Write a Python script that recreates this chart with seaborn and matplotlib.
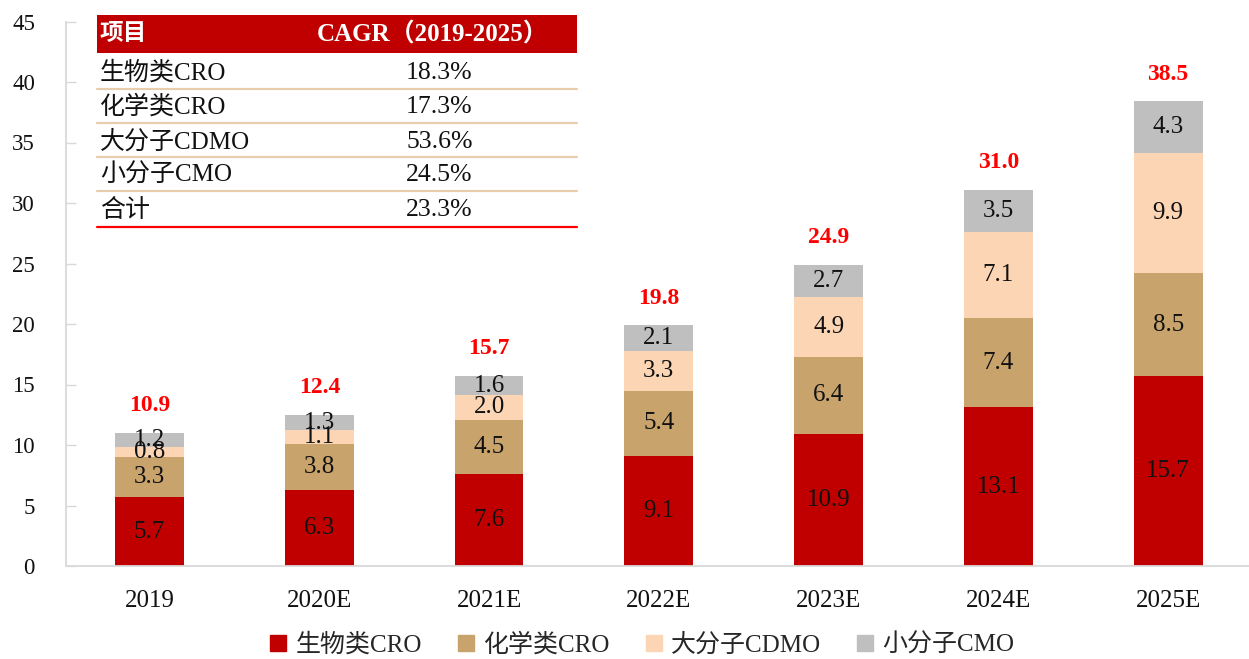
import numpy as np
import pandas as pd
import matplotlib
matplotlib.use("Agg")
import matplotlib.pyplot as plt
import seaborn as sns
from matplotlib.patches import Rectangle
from matplotlib.lines import Line2D

years = ["2019", "2020E", "2021E", "2022E", "2023E", "2024E", "2025E"]
series_names = ["生物类CRO", "化学类CRO", "大分子CDMO", "小分子CMO"]
bio_cro = [5.7, 6.3, 7.6, 9.1, 10.9, 13.1, 15.7]
chem_cro = [3.3, 3.8, 4.5, 5.4, 6.4, 7.4, 8.5]
large_cdmo = [0.8, 1.1, 2.0, 3.3, 4.9, 7.1, 9.9]
small_cmo = [1.2, 1.3, 1.6, 2.1, 2.7, 3.5, 4.3]
totals = [10.9, 12.4, 15.7, 19.8, 24.9, 31.0, 38.5]

table_items = ["生物类CRO", "化学类CRO", "大分子CDMO", "小分子CMO", "合计"]
table_cagr = ["18.3%", "17.3%", "53.6%", "24.5%", "23.3%"]

colors = ["#C00000", "#C9A36C", "#FCD5B4", "#BFBFBF"]
FAM = ["Liberation Serif", "Noto Sans CJK SC"]

sns.set_theme(style="white")
plt.rcParams["font.family"] = FAM
plt.rcParams["axes.unicode_minus"] = False

W, H = 1249, 659
fig = plt.figure(figsize=(W / 100, H / 100), dpi=100)
ax = fig.add_axes([65.5 / W, (H - 566) / H, (W - 65.5) / W, 544.5 / H])

all_series = [bio_cro, chem_cro, large_cdmo, small_cmo]
bottom = np.zeros(len(years))
for name, vals, c in zip(series_names, all_series, colors):
    sns.barplot(x=years, y=vals, bottom=bottom, color=c, width=0.405,
                saturation=1, ax=ax, label=name, edgecolor="none", linewidth=0)
    bottom = bottom + np.array(vals)
if ax.get_legend() is not None:
    ax.get_legend().remove()

for cont in ax.containers:
    ax.bar_label(cont, fmt="%.1f", label_type="center", fontsize=18,
                 color="#111111", family=FAM)

for i, t in enumerate(totals):
    ax.annotate(f"{t:.1f}", xy=(i, bottom[i]), xytext=(0, 19.5),
                textcoords="offset points", ha="center", va="center",
                fontsize=17, fontweight="bold", color="#FF0000", family=FAM)

ax.set_ylim(0, 45)
ax.set_xlim(-0.495, 6.476)
ax.set_yticks(range(0, 46, 5))
ax.tick_params(axis="y", labelsize=16.5, length=7, width=1, color="#D9D9D9",
               direction="in", left=True, pad=22, labelcolor="#111111")
ax.tick_params(axis="x", labelsize=18, length=0, pad=17, labelcolor="#111111")
ax.set_xlabel("")
ax.set_ylabel("")
for s in ["top", "right"]:
    ax.spines[s].set_visible(False)
for s in ["left", "bottom"]:
    ax.spines[s].set_color("#D9D9D9")
    ax.spines[s].set_linewidth(1.3)
ax.grid(False)

# Legend
handles = [Line2D([0], [0], marker="s", linestyle="none", markersize=11,
                  markerfacecolor=c, markeredgecolor=c) for c in colors]
fig.legend(handles, series_names, loc="center", bbox_to_anchor=(0.5136, 1 - 645 / H),
           ncol=4, frameon=False, handletextpad=0.3,
           columnspacing=1.35, handlelength=0.8, prop={"family": FAM, "size": 18})

# CAGR table
def fx(px):
    return px / W

def fy(py):
    return 1 - py / H

TL, TR = 97, 577
fig.add_artist(Rectangle((fx(TL), fy(53)), fx(TR) - fx(TL), 38 / H,
                         transform=fig.transFigure, facecolor="#C00000",
                         edgecolor="none", zorder=5))
fig.text(fx(100), fy(35), "项目", color="white", fontsize=17, fontweight="bold",
         va="center", ha="left", family=FAM, zorder=6)
fig.text(fx(317), fy(35), "CAGR（2019-2025）", color="white", fontsize=18,
         fontweight="bold", va="center", ha="left", family=FAM, zorder=6)

row_centers = [73, 107, 142, 175, 210]
for yc, item, val in zip(row_centers, table_items, table_cagr):
    fig.text(fx(100), fy(yc), item, fontsize=18, va="center", ha="left",
             color="#111111", family=FAM, zorder=6)
    fig.text(fx(406), fy(yc), val, fontsize=18.5, va="center", ha="left",
             color="#111111", family=FAM, zorder=6)

for ly in [89, 123, 157, 191]:
    fig.add_artist(Line2D([fx(TL), fx(TR)], [fy(ly), fy(ly)],
                          transform=fig.transFigure, color="#E6CDAE", lw=1.6, zorder=6))
fig.add_artist(Line2D([fx(TL), fx(TR)], [fy(227), fy(227)],
                      transform=fig.transFigure, color="#FF0000", lw=1.6, zorder=6))

fig.savefig("out.png", dpi=100)
